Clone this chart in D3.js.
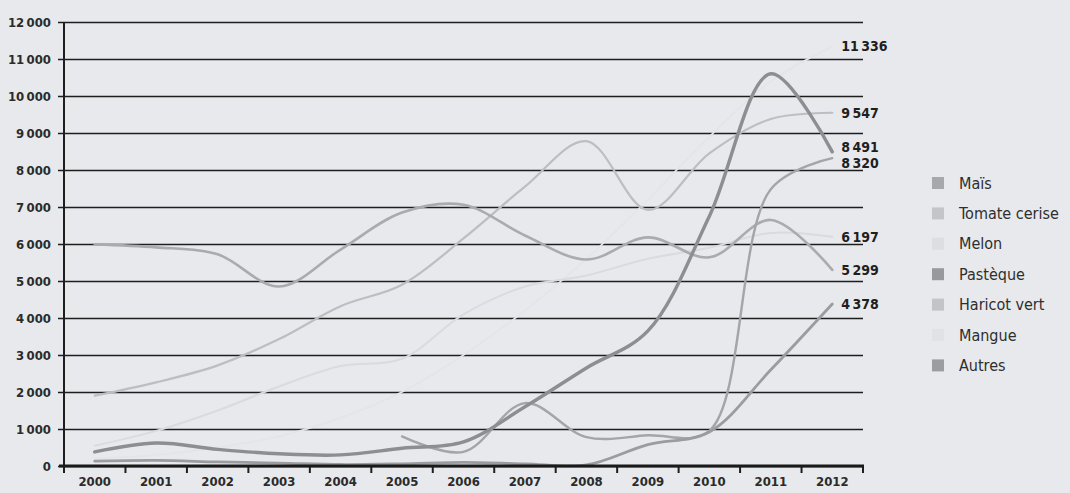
<!DOCTYPE html>
<html>
<head>
<meta charset="utf-8">
<script src="https://d3js.org/d3.v7.min.js"></script>
<style>
  html, body { margin: 0; padding: 0; background: #e7e9ec; }
  svg { display: block; }
  .axis text { font-family: "Liberation Sans Narrow", "DejaVu Sans Condensed", "Roboto Condensed", sans-serif; fill: #2b2b2b; }
</style>
</head>
<body>
<svg id="chart" width="1070" height="493"></svg>
<script>
// Years on the x axis
const years = ['2000', '2001', '2002', '2003', '2004', '2005', '2006',
               '2007', '2008', '2009', '2010', '2011', '2012'];

// Y axis ticks
const yTicks = [0, 1000, 2000, 3000, 4000, 5000, 6000, 7000, 8000, 9000, 10000, 11000, 12000];

// Series values, null = no data
const mais         = [5990, 5910, 5720, 4850, 5850, 6850, 7060, 6230, 5580, 6180, 5640, 6650, 5299];
const tomateCerise = [1900, 2260, 2720, 3430, 4320, 4900, 6150, 7550, 8780, 6920, 8450, 9380, 9547];
const melon        = [550, 950, 1500, 2150, 2700, 2900, 4100, 4850, 5150, 5600, 5900, 6300, 6197];
const pasteque     = [380, 620, 450, 330, 300, 480, 650, 1600, 2650, 3650, 6750, 10600, 8491];
const haricotVert  = [null, null, null, null, null, 800, 380, 1700, 780, 830, 950, 7480, 8320];
const mangue       = [200, 300, 500, 800, 1300, 2000, 3000, 4200, 5600, 7200, 8900, 10400, 11336];
const autres       = [130, 150, 110, 80, 40, 60, 100, 60, 30, 580, 920, 2600, 4378];

// Legend order
const seriesNames = ['Maïs', 'Tomate cerise', 'Melon', 'Pastèque', 'Haricot vert', 'Mangue', 'Autres'];
const seriesValues = [mais, tomateCerise, melon, pasteque, haricotVert, mangue, autres];

// Grey shades as in the printed chart (Melon and Mangue barely show on paper)
const lineColors   = ['#a9abae', '#bcbec1', '#d9dbde', '#8c8e91', '#a3a5a8', '#e3e5e8', '#9a9c9f'];
const legendColors = ['#a6a8ab', '#c3c5c8', '#dcdee1', '#97999c', '#c2c4c7', '#e0e2e5', '#9b9da0'];
const lineWidths   = [2.6, 2.2, 2, 3.4, 2.4, 1.8, 2.8];
// Lighter lines are drawn first, darker ones on top
const drawOrder = [5, 2, 1, 0, 4, 6, 3];

const svg = d3.select('#chart');
const margin = { left: 64, right: 207, top: 22, bottom: 27 };
const width = 1070, height = 493;
const plotW = width - margin.left - margin.right;
const plotH = height - margin.top - margin.bottom;

const g = svg.append('g').attr('transform', `translate(${margin.left},${margin.top})`);

// Band scale for the tick marks, point scale for the data positions
const xBand = d3.scaleBand().domain(years).range([0, plotW]);
const x = d3.scalePoint().domain(years).range([0, plotW]).padding(0.5);
const y = d3.scaleLinear().domain([0, 12000]).range([plotH, 0]);

const fmt = v => d3.format(',')(v).replace(/,/g, '\u2009');

// Y axis with full-width gridlines
const yAxis = g.append('g')
  .attr('class', 'axis')
  .call(d3.axisLeft(y).tickValues(yTicks).tickSize(-plotW).tickPadding(0).tickFormat(fmt));
yAxis.select('.domain').remove();
yAxis.selectAll('.tick line')
  .attr('x1', -6)
  .attr('stroke', '#1e1e1e')
  .attr('stroke-width', 1.4);
yAxis.selectAll('.tick text')
  .attr('x', -13)
  .attr('font-size', 13)
  .attr('font-weight', 'bold');

// Vertical axis line
g.append('line')
  .attr('x1', 0).attr('x2', 0)
  .attr('y1', 0).attr('y2', plotH)
  .attr('stroke', '#1e1e1e')
  .attr('stroke-width', 2);

// Lines
const line = d3.line()
  .defined(d => d.v !== null)
  .x(d => x(d.year))
  .y(d => y(d.v))
  .curve(d3.curveCatmullRom.alpha(0.5));

drawOrder.forEach(i => {
  const pts = years.map((yr, k) => ({ year: yr, v: seriesValues[i][k] }));
  g.append('path')
    .datum(pts)
    .attr('fill', 'none')
    .attr('stroke', lineColors[i])
    .attr('stroke-width', lineWidths[i])
    .attr('stroke-linecap', 'round')
    .attr('d', line);
});

// X axis: heavy baseline, ticks at band boundaries, labels centred in bands
const xAxis = g.append('g')
  .attr('class', 'axis')
  .attr('transform', `translate(0,${plotH})`)
  .call(d3.axisBottom(xBand).tickSize(0).tickPadding(11));
xAxis.select('.domain').remove();
xAxis.selectAll('.tick text')
  .attr('font-size', 13)
  .attr('font-weight', 'bold');

const bounds = years.map(yr => xBand(yr)).concat([plotW]);
xAxis.selectAll('line.bound')
  .data(bounds)
  .enter()
  .append('line')
  .attr('class', 'bound')
  .attr('x1', d => d).attr('x2', d => d)
  .attr('y1', 0).attr('y2', 7)
  .attr('stroke', '#1e1e1e')
  .attr('stroke-width', 2);
xAxis.append('line')
  .attr('x1', -5).attr('x2', plotW + 1)
  .attr('y1', 0).attr('y2', 0)
  .attr('stroke', '#1a1a1a')
  .attr('stroke-width', 3);

// End-of-line value labels, nudged apart where they collide
const minGap = 16;
const last = years[years.length - 1];
const endLabels = seriesValues
  .map(vals => vals[vals.length - 1])
  .map(v => ({ v: v, y: y(v) }))
  .sort((a, b) => a.y - b.y);
for (let k = 1; k < endLabels.length; k++) {
  const gap = endLabels[k].y - endLabels[k - 1].y;
  if (gap < minGap) {
    const shift = (minGap - gap) / 2;
    endLabels[k - 1].y -= shift;
    endLabels[k].y += shift;
  }
}
g.selectAll('text.endlabel')
  .data(endLabels)
  .enter()
  .append('text')
  .attr('class', 'endlabel')
  .attr('x', x(last) + 9)
  .attr('y', d => d.y)
  .attr('dy', '0.35em')
  .attr('font-family', '"Liberation Sans Narrow", "DejaVu Sans Condensed", sans-serif')
  .attr('font-size', 14)
  .attr('font-weight', 'bold')
  .attr('fill', '#1f1f1f')
  .text(d => fmt(d.v));

// Legend
const legend = svg.append('g').attr('transform', 'translate(932,183)');
const rows = legend.selectAll('g')
  .data(seriesNames)
  .enter()
  .append('g')
  .attr('transform', (d, i) => `translate(0,${i * 30.4})`);
rows.append('rect')
  .attr('x', 0).attr('y', -6)
  .attr('width', 12).attr('height', 12)
  .attr('fill', (d, i) => legendColors[i]);
rows.append('text')
  .attr('x', 27)
  .attr('dy', '0.35em')
  .attr('font-family', '"Liberation Sans Narrow", "DejaVu Sans Condensed", sans-serif')
  .attr('font-size', 16)
  .attr('fill', '#2e2e2e')
  .text(d => d);
</script>
</body>
</html>
